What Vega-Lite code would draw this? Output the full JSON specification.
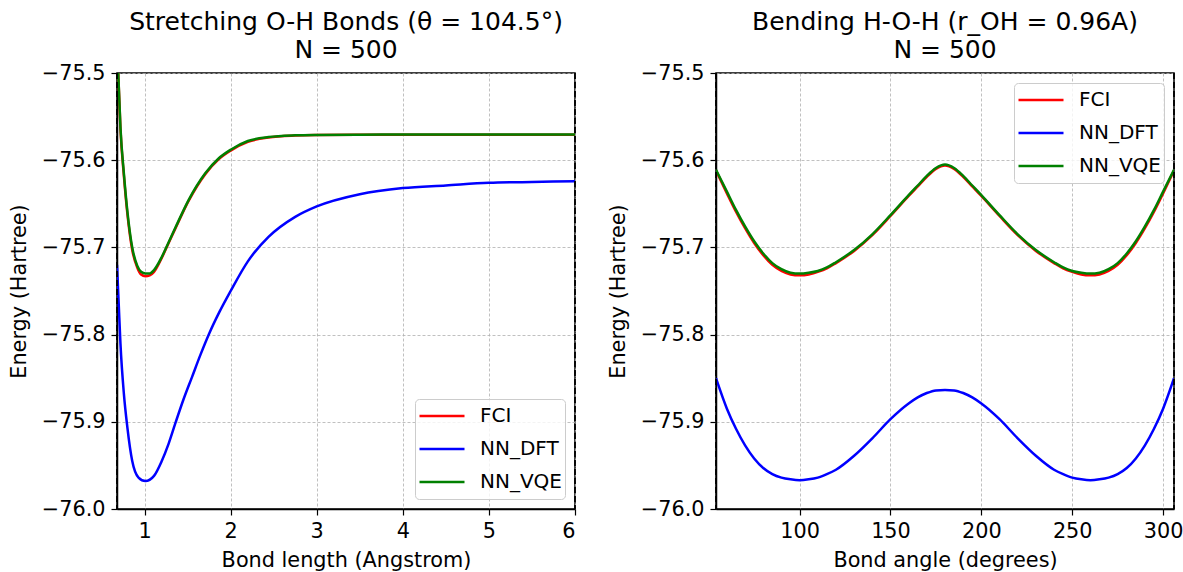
{
  "$schema": "https://vega.github.io/schema/vega-lite/v6.json",
  "background": "white",
  "padding": {"left": 7, "top": 9, "right": 4, "bottom": 4},
  "spacing": 29,
  "config": {
    "font": "DejaVu Sans",
    "view": {"stroke": "black", "strokeWidth": 1.5},
    "axis": {
      "gridColor": "#b0b0b0", "gridDash": [3, 2], "gridWidth": 0.8,
      "domainColor": "black", "domainWidth": 1.5,
      "tickColor": "black", "tickSize": 6, "tickWidth": 1.2,
      "labelFontSize": 20.8, "labelColor": "black", "labelFont": "DejaVu Sans", "labelPadding": 6,
      "titleFontSize": 20.8, "titleFontWeight": "normal", "titleColor": "black", "titleFont": "DejaVu Sans"
    },
    "axisX": {"titlePadding": 10},
    "axisY": {"titlePadding": 12},
    "title": {"fontSize": 25, "fontWeight": "normal", "font": "DejaVu Sans", "color": "black", "lineHeight": 28, "offset": -1},
    "legend": {
      "title": null, "labelFontSize": 20, "labelFont": "DejaVu Sans", "labelColor": "black",
      "symbolType": "stroke", "symbolSize": 2025, "symbolStrokeWidth": 2.5,
      "strokeColor": "#cccccc", "fillColor": "rgba(255,255,255,0.8)", "padding": 3, "cornerRadius": 4,
      "offset": 10, "rowPadding": 5, "clipHeight": 28, "labelOffset": 14
    }
  },
  "datasets": {
    "stretch": [
      {"x": 0.68, "E": -75.46, "s": "FCI"}, {"x": 0.695, "E": -75.502, "s": "FCI"}, {"x": 0.72, "E": -75.564, "s": "FCI"}, {"x": 0.76, "E": -75.618, "s": "FCI"}, {"x": 0.8, "E": -75.661, "s": "FCI"}, {"x": 0.857, "E": -75.703, "s": "FCI"}, {"x": 0.915, "E": -75.723, "s": "FCI"}, {"x": 0.96, "E": -75.731, "s": "FCI"}, {"x": 1.01, "E": -75.733, "s": "FCI"}, {"x": 1.06, "E": -75.732, "s": "FCI"}, {"x": 1.11, "E": -75.728, "s": "FCI"}, {"x": 1.2, "E": -75.712, "s": "FCI"}, {"x": 1.28, "E": -75.695, "s": "FCI"}, {"x": 1.36, "E": -75.678, "s": "FCI"}, {"x": 1.51, "E": -75.647, "s": "FCI"}, {"x": 1.705, "E": -75.616, "s": "FCI"}, {"x": 1.86, "E": -75.599, "s": "FCI"}, {"x": 2.0, "E": -75.589, "s": "FCI"}, {"x": 2.2, "E": -75.579, "s": "FCI"}, {"x": 2.44, "E": -75.574, "s": "FCI"}, {"x": 2.75, "E": -75.5718, "s": "FCI"}, {"x": 3.0, "E": -75.5712, "s": "FCI"}, {"x": 3.5, "E": -75.5709, "s": "FCI"}, {"x": 4.0, "E": -75.5708, "s": "FCI"}, {"x": 5.0, "E": -75.5707, "s": "FCI"}, {"x": 6.0, "E": -75.5707, "s": "FCI"},
      {"x": 0.68, "E": -75.72, "s": "NN_DFT"}, {"x": 0.7, "E": -75.765, "s": "NN_DFT"}, {"x": 0.72, "E": -75.81, "s": "NN_DFT"}, {"x": 0.76, "E": -75.868, "s": "NN_DFT"}, {"x": 0.8, "E": -75.906, "s": "NN_DFT"}, {"x": 0.857, "E": -75.945, "s": "NN_DFT"}, {"x": 0.93, "E": -75.964, "s": "NN_DFT"}, {"x": 1.01, "E": -75.968, "s": "NN_DFT"}, {"x": 1.11, "E": -75.962, "s": "NN_DFT"}, {"x": 1.2, "E": -75.945, "s": "NN_DFT"}, {"x": 1.28, "E": -75.925, "s": "NN_DFT"}, {"x": 1.36, "E": -75.901, "s": "NN_DFT"}, {"x": 1.45, "E": -75.875, "s": "NN_DFT"}, {"x": 1.55, "E": -75.849, "s": "NN_DFT"}, {"x": 1.65, "E": -75.823, "s": "NN_DFT"}, {"x": 1.75, "E": -75.799, "s": "NN_DFT"}, {"x": 1.87, "E": -75.774, "s": "NN_DFT"}, {"x": 2.0, "E": -75.75, "s": "NN_DFT"}, {"x": 2.2, "E": -75.716, "s": "NN_DFT"}, {"x": 2.44, "E": -75.688, "s": "NN_DFT"}, {"x": 2.75, "E": -75.665, "s": "NN_DFT"}, {"x": 3.0, "E": -75.653, "s": "NN_DFT"}, {"x": 3.5, "E": -75.639, "s": "NN_DFT"}, {"x": 4.0, "E": -75.632, "s": "NN_DFT"}, {"x": 4.5, "E": -75.629, "s": "NN_DFT"}, {"x": 5.0, "E": -75.626, "s": "NN_DFT"}, {"x": 5.5, "E": -75.625, "s": "NN_DFT"}, {"x": 6.0, "E": -75.624, "s": "NN_DFT"},
      {"x": 0.68, "E": -75.46, "s": "NN_VQE"}, {"x": 0.695, "E": -75.501, "s": "NN_VQE"}, {"x": 0.72, "E": -75.562, "s": "NN_VQE"}, {"x": 0.76, "E": -75.615, "s": "NN_VQE"}, {"x": 0.8, "E": -75.658, "s": "NN_VQE"}, {"x": 0.857, "E": -75.7, "s": "NN_VQE"}, {"x": 0.915, "E": -75.721, "s": "NN_VQE"}, {"x": 0.96, "E": -75.728, "s": "NN_VQE"}, {"x": 1.01, "E": -75.73, "s": "NN_VQE"}, {"x": 1.06, "E": -75.73, "s": "NN_VQE"}, {"x": 1.11, "E": -75.726, "s": "NN_VQE"}, {"x": 1.2, "E": -75.711, "s": "NN_VQE"}, {"x": 1.28, "E": -75.694, "s": "NN_VQE"}, {"x": 1.36, "E": -75.677, "s": "NN_VQE"}, {"x": 1.51, "E": -75.646, "s": "NN_VQE"}, {"x": 1.705, "E": -75.615, "s": "NN_VQE"}, {"x": 1.86, "E": -75.598, "s": "NN_VQE"}, {"x": 2.0, "E": -75.588, "s": "NN_VQE"}, {"x": 2.2, "E": -75.578, "s": "NN_VQE"}, {"x": 2.44, "E": -75.5735, "s": "NN_VQE"}, {"x": 2.75, "E": -75.5715, "s": "NN_VQE"}, {"x": 3.0, "E": -75.571, "s": "NN_VQE"}, {"x": 3.5, "E": -75.5707, "s": "NN_VQE"}, {"x": 4.0, "E": -75.5706, "s": "NN_VQE"}, {"x": 5.0, "E": -75.5705, "s": "NN_VQE"}, {"x": 6.0, "E": -75.5705, "s": "NN_VQE"}
    ],
    "bend": [
      {"x": 54, "E": -75.612, "s": "FCI"}, {"x": 60, "E": -75.638, "s": "FCI"}, {"x": 65, "E": -75.659, "s": "FCI"}, {"x": 70, "E": -75.678, "s": "FCI"}, {"x": 75, "E": -75.695, "s": "FCI"}, {"x": 80, "E": -75.709, "s": "FCI"}, {"x": 85, "E": -75.72, "s": "FCI"}, {"x": 90, "E": -75.727, "s": "FCI"}, {"x": 95, "E": -75.731, "s": "FCI"}, {"x": 100, "E": -75.732, "s": "FCI"}, {"x": 105, "E": -75.731, "s": "FCI"}, {"x": 110, "E": -75.728, "s": "FCI"}, {"x": 115, "E": -75.724, "s": "FCI"}, {"x": 120, "E": -75.718, "s": "FCI"}, {"x": 130, "E": -75.704, "s": "FCI"}, {"x": 140, "E": -75.686, "s": "FCI"}, {"x": 150, "E": -75.664, "s": "FCI"}, {"x": 160, "E": -75.641, "s": "FCI"}, {"x": 165, "E": -75.63, "s": "FCI"}, {"x": 170, "E": -75.619, "s": "FCI"}, {"x": 175, "E": -75.61, "s": "FCI"}, {"x": 180, "E": -75.606, "s": "FCI"}, {"x": 185, "E": -75.61, "s": "FCI"}, {"x": 190, "E": -75.619, "s": "FCI"}, {"x": 195, "E": -75.63, "s": "FCI"}, {"x": 200, "E": -75.641, "s": "FCI"}, {"x": 210, "E": -75.664, "s": "FCI"}, {"x": 220, "E": -75.686, "s": "FCI"}, {"x": 230, "E": -75.704, "s": "FCI"}, {"x": 240, "E": -75.718, "s": "FCI"}, {"x": 245, "E": -75.724, "s": "FCI"}, {"x": 250, "E": -75.728, "s": "FCI"}, {"x": 255, "E": -75.731, "s": "FCI"}, {"x": 260, "E": -75.732, "s": "FCI"}, {"x": 265, "E": -75.731, "s": "FCI"}, {"x": 270, "E": -75.727, "s": "FCI"}, {"x": 275, "E": -75.72, "s": "FCI"}, {"x": 280, "E": -75.709, "s": "FCI"}, {"x": 285, "E": -75.695, "s": "FCI"}, {"x": 290, "E": -75.678, "s": "FCI"}, {"x": 295, "E": -75.659, "s": "FCI"}, {"x": 300, "E": -75.638, "s": "FCI"}, {"x": 306, "E": -75.612, "s": "FCI"},
      {"x": 54, "E": -75.85, "s": "NN_DFT"}, {"x": 60, "E": -75.885, "s": "NN_DFT"}, {"x": 65, "E": -75.908, "s": "NN_DFT"}, {"x": 70, "E": -75.927, "s": "NN_DFT"}, {"x": 75, "E": -75.942, "s": "NN_DFT"}, {"x": 80, "E": -75.953, "s": "NN_DFT"}, {"x": 85, "E": -75.96, "s": "NN_DFT"}, {"x": 90, "E": -75.964, "s": "NN_DFT"}, {"x": 95, "E": -75.966, "s": "NN_DFT"}, {"x": 100, "E": -75.967, "s": "NN_DFT"}, {"x": 105, "E": -75.966, "s": "NN_DFT"}, {"x": 110, "E": -75.964, "s": "NN_DFT"}, {"x": 115, "E": -75.96, "s": "NN_DFT"}, {"x": 120, "E": -75.955, "s": "NN_DFT"}, {"x": 130, "E": -75.939, "s": "NN_DFT"}, {"x": 140, "E": -75.919, "s": "NN_DFT"}, {"x": 150, "E": -75.897, "s": "NN_DFT"}, {"x": 160, "E": -75.879, "s": "NN_DFT"}, {"x": 165, "E": -75.872, "s": "NN_DFT"}, {"x": 170, "E": -75.867, "s": "NN_DFT"}, {"x": 175, "E": -75.864, "s": "NN_DFT"}, {"x": 180, "E": -75.8635, "s": "NN_DFT"}, {"x": 185, "E": -75.864, "s": "NN_DFT"}, {"x": 190, "E": -75.867, "s": "NN_DFT"}, {"x": 195, "E": -75.872, "s": "NN_DFT"}, {"x": 200, "E": -75.879, "s": "NN_DFT"}, {"x": 210, "E": -75.897, "s": "NN_DFT"}, {"x": 220, "E": -75.919, "s": "NN_DFT"}, {"x": 230, "E": -75.939, "s": "NN_DFT"}, {"x": 240, "E": -75.955, "s": "NN_DFT"}, {"x": 245, "E": -75.96, "s": "NN_DFT"}, {"x": 250, "E": -75.964, "s": "NN_DFT"}, {"x": 255, "E": -75.966, "s": "NN_DFT"}, {"x": 260, "E": -75.967, "s": "NN_DFT"}, {"x": 265, "E": -75.966, "s": "NN_DFT"}, {"x": 270, "E": -75.964, "s": "NN_DFT"}, {"x": 275, "E": -75.96, "s": "NN_DFT"}, {"x": 280, "E": -75.953, "s": "NN_DFT"}, {"x": 285, "E": -75.942, "s": "NN_DFT"}, {"x": 290, "E": -75.927, "s": "NN_DFT"}, {"x": 295, "E": -75.908, "s": "NN_DFT"}, {"x": 300, "E": -75.885, "s": "NN_DFT"}, {"x": 306, "E": -75.85, "s": "NN_DFT"},
      {"x": 54, "E": -75.611, "s": "NN_VQE"}, {"x": 60, "E": -75.636, "s": "NN_VQE"}, {"x": 65, "E": -75.657, "s": "NN_VQE"}, {"x": 70, "E": -75.676, "s": "NN_VQE"}, {"x": 75, "E": -75.693, "s": "NN_VQE"}, {"x": 80, "E": -75.707, "s": "NN_VQE"}, {"x": 85, "E": -75.718, "s": "NN_VQE"}, {"x": 90, "E": -75.725, "s": "NN_VQE"}, {"x": 95, "E": -75.729, "s": "NN_VQE"}, {"x": 100, "E": -75.73, "s": "NN_VQE"}, {"x": 105, "E": -75.729, "s": "NN_VQE"}, {"x": 110, "E": -75.727, "s": "NN_VQE"}, {"x": 115, "E": -75.723, "s": "NN_VQE"}, {"x": 120, "E": -75.717, "s": "NN_VQE"}, {"x": 130, "E": -75.703, "s": "NN_VQE"}, {"x": 140, "E": -75.685, "s": "NN_VQE"}, {"x": 150, "E": -75.663, "s": "NN_VQE"}, {"x": 160, "E": -75.64, "s": "NN_VQE"}, {"x": 165, "E": -75.629, "s": "NN_VQE"}, {"x": 170, "E": -75.618, "s": "NN_VQE"}, {"x": 175, "E": -75.609, "s": "NN_VQE"}, {"x": 180, "E": -75.605, "s": "NN_VQE"}, {"x": 185, "E": -75.609, "s": "NN_VQE"}, {"x": 190, "E": -75.618, "s": "NN_VQE"}, {"x": 195, "E": -75.629, "s": "NN_VQE"}, {"x": 200, "E": -75.64, "s": "NN_VQE"}, {"x": 210, "E": -75.663, "s": "NN_VQE"}, {"x": 220, "E": -75.685, "s": "NN_VQE"}, {"x": 230, "E": -75.703, "s": "NN_VQE"}, {"x": 240, "E": -75.717, "s": "NN_VQE"}, {"x": 245, "E": -75.723, "s": "NN_VQE"}, {"x": 250, "E": -75.727, "s": "NN_VQE"}, {"x": 255, "E": -75.729, "s": "NN_VQE"}, {"x": 260, "E": -75.73, "s": "NN_VQE"}, {"x": 265, "E": -75.729, "s": "NN_VQE"}, {"x": 270, "E": -75.725, "s": "NN_VQE"}, {"x": 275, "E": -75.718, "s": "NN_VQE"}, {"x": 280, "E": -75.707, "s": "NN_VQE"}, {"x": 285, "E": -75.693, "s": "NN_VQE"}, {"x": 290, "E": -75.676, "s": "NN_VQE"}, {"x": 295, "E": -75.657, "s": "NN_VQE"}, {"x": 300, "E": -75.636, "s": "NN_VQE"}, {"x": 306, "E": -75.611, "s": "NN_VQE"}
    ],
    "stretchEdges": [{"x": 0.68}, {"x": 6}],
    "bendEdges": [{"x": 54}, {"x": 306}]
  },
  "resolve": {"scale": {"color": "independent"}, "legend": {"color": "independent"}},
  "hconcat": [
    {
      "width": 458, "height": 436,
      "title": {"text": ["Stretching O-H Bonds (θ = 104.5°)", "N = 500"]},
      "encoding": {
        "x": {"field": "x", "type": "quantitative", "scale": {"domain": [0.68, 6], "nice": false, "zero": false}, "axis": {"title": "Bond length (Angstrom)", "values": [1, 2, 3, 4, 5, 6], "format": "d"}}
      },
      "layer": [
        {
          "data": {"name": "stretch"},
          "mark": {"type": "line", "strokeWidth": 2.5, "clip": true, "interpolate": "monotone"},
          "encoding": {
            "y": {"field": "E", "type": "quantitative", "scale": {"domain": [-76, -75.5], "nice": false, "zero": false}, "axis": {"title": "Energy (Hartree)", "values": [-76, -75.9, -75.8, -75.7, -75.6, -75.5], "format": ".1f"}},
            "color": {"field": "s", "type": "nominal", "scale": {"domain": ["FCI", "NN_DFT", "NN_VQE"], "range": ["#ff0000", "#0000ff", "#008000"]}, "legend": {"orient": "bottom-right"}}
          }
        },
        {
          "data": {"name": "stretchEdges"},
          "mark": {"type": "rule", "color": "black", "strokeDash": [6, 3], "strokeWidth": 1.8},
          "encoding": {}
        }
      ]
    },
    {
      "width": 458, "height": 436,
      "title": {"text": ["Bending H-O-H (r_OH = 0.96A)", "N = 500"]},
      "encoding": {
        "x": {"field": "x", "type": "quantitative", "scale": {"domain": [54, 306], "nice": false, "zero": false}, "axis": {"title": "Bond angle (degrees)", "values": [100, 150, 200, 250, 300], "format": "d"}}
      },
      "layer": [
        {
          "data": {"name": "bend"},
          "mark": {"type": "line", "strokeWidth": 2.5, "clip": true, "interpolate": "monotone"},
          "encoding": {
            "y": {"field": "E", "type": "quantitative", "scale": {"domain": [-76, -75.5], "nice": false, "zero": false}, "axis": {"title": "Energy (Hartree)", "values": [-76, -75.9, -75.8, -75.7, -75.6, -75.5], "format": ".1f"}},
            "color": {"field": "s", "type": "nominal", "scale": {"domain": ["FCI", "NN_DFT", "NN_VQE"], "range": ["#ff0000", "#0000ff", "#008000"]}, "legend": {"orient": "top-right"}}
          }
        },
        {
          "data": {"name": "bendEdges"},
          "mark": {"type": "rule", "color": "black", "strokeDash": [6, 3], "strokeWidth": 1.8},
          "encoding": {}
        }
      ]
    }
  ]
}
